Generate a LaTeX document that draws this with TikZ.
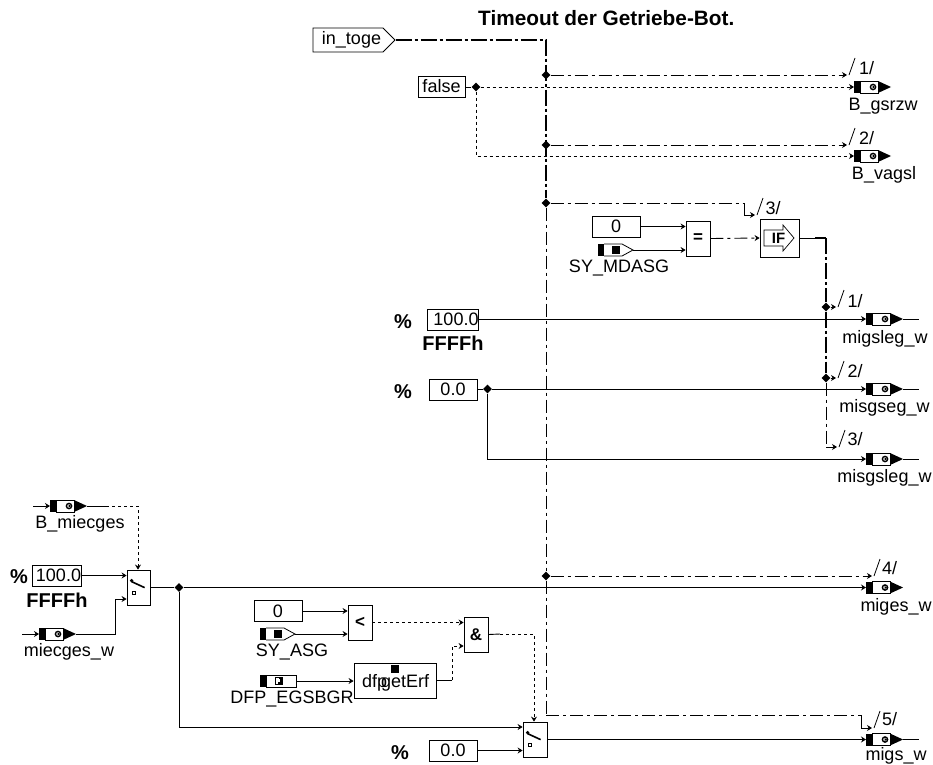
\documentclass[tikz,border=0pt]{standalone}
\usepackage{fontspec}
\setmainfont{Liberation Sans}
\usetikzlibrary{arrows.meta,shapes.geometric,shapes.symbols}

\tikzset{
    lbl/.style={font=\fontsize{18}{18}\selectfont,inner sep=0pt,yshift=-1pt},
    unit/.style={font=\fontsize{20}{20}\selectfont\bfseries,inner sep=0pt},
    const/.style={draw,line width=0.8pt,minimum width=48pt,minimum height=21pt,inner sep=0pt,font=\fontsize{18}{18}\selectfont},
    gate/.style={draw,line width=0.8pt,minimum width=24pt,minimum height=35pt,inner sep=0pt,font=\fontsize{17}{17}\selectfont\bfseries},
    jn/.style={diamond,fill=black,inner sep=0pt,minimum size=9pt},
    sig/.style={line width=0.9pt},
    bit/.style={line width=0.9pt,dash pattern=on 3pt off 3pt},
    seq/.style={line width=0.9pt,dash pattern=on 13pt off 4pt on 3pt off 4pt},
    seqb/.style={line width=1.5pt,dash pattern=on 16pt off 3pt on 3pt off 3pt},
    outport/.pic={
        \fill (0,-6) rectangle (6,6);
        \draw[line width=0.8pt] (6,-6) rectangle (24,6);
        \fill (24,-6) -- (37,0) -- (24,6) -- cycle;
        \draw[line width=1.4pt,fill=white] (19,0) circle (2.6);
        \fill (21,0) -- (18.6,-1.5) -- (18.6,1.5) -- cycle;
        \coordinate (-in) at (0,0);
        \coordinate (-out) at (37,0);
    },
    inport/.pic={
        \fill (0,-6) rectangle (6,6);
        \draw[line width=0.8pt] (6,-6) -- (24,-6) -- (35,0) -- (24,6) -- (6,6);
        \fill (14,-4) rectangle (22,4);
        \coordinate (-out) at (35,0);
    },
    dfpport/.pic={
        \fill (0,-6) rectangle (6,6);
        \draw[line width=0.8pt] (6,-6) rectangle (36,6);
        \draw[line width=1pt] (15,-3.5) rectangle (22,3.5);
        \fill (19,-3.5) rectangle (22,0);
        \fill (18,-1) rectangle (22,3.5);
        \fill[white] (16,-2.5) rectangle (20,1);
        \coordinate (-out) at (36,0);
    },
    switch/.pic={
        \draw[line width=1.6pt] (5,12) -- (18,18);
        \fill (5,11) circle (1.8);
        \draw[line width=0.7pt] (6,21.5) rectangle (9,24.5);
    },
    tick/.pic={
        \draw[line width=0.8pt] (2,0) -- (8,-17);
    }
}

\begin{document}
\begin{tikzpicture}[>={Stealth[length=5pt,width=6pt]},x=1pt,y=-1pt]
    \clip (0,0) rectangle (933,764);
    % title
    \node[font=\fontsize{20.8}{21}\selectfont\bfseries,inner sep=0pt,anchor=west] (title) at (478,18) {Timeout der Getriebe-Bot.};
    % timeout branch
    \node[draw,line width=0.8pt,signal,signal to=east,signal pointer angle=90,minimum width=82pt,minimum height=24pt,inner sep=0pt,font=\fontsize{18}{18}\selectfont] (intoge) at (348,40) {\hspace{7pt}in\_toge};
    \coordinate (mainbot) at (546,715);
    \node[jn] (j1) at (546,75) {};
    \node[jn] (j2) at (546,145) {};
    \node[jn] (j3) at (546,203) {};
    \node[jn] (j4) at (546,576) {};
    \draw[seqb] (intoge.east) -- (intoge.east -| j1) -- (j3);
    \draw[seq] (j3) -- (j4) -- (mainbot);

    \coordinate (t1) at (847,75);
    \coordinate (t2) at (847,145);
    \coordinate (t3) at (755,215);
    \coordinate (t3a) at (744,203);
    \coordinate (t4) at (872,576);
    \coordinate (t5) at (872,728);
    \coordinate (t5a) at (861,715);
    \coordinate (t5b) at (861,728);
    \draw[seq,->] (j1) -- (t1);
    \draw[seq,->] (j2) -- (t2);
    \draw[seq] (j3) -- (t3a);
    \draw[sig,->] (t3a) -- (t3a |- t3) -- (t3);
    \draw[seq,->] (j4) -- (t4);
    \draw[seq] (mainbot) -- (t5a);
    \draw[sig,->] (t5a) -- (t5b) -- (t5);
    \pic at (t1) {tick};
    \pic at (t2) {tick};
    \pic at (t3) {tick};
    \pic at (t4) {tick};
    \pic at (t5) {tick};
    \node[lbl] (n1) at (866.5,67) {1/};
    \node[lbl] (n2) at (866.5,137) {2/};
    \node[lbl] (n3) at (773,207) {3/};
    \node[lbl] (n4) at (889.5,567) {4/};
    \node[lbl] (n5) at (889.5,718) {5/};

    % false
    \node[const,minimum width=47pt] (false) at (441.5,86.5) {false};
    \node[jn] (jf) at (476,87) {};
    \draw[sig] (false.east |- jf) -- (jf);
    \pic (oA) at (854,87) {outport};
    \pic (oB) at (854,156) {outport};
    \draw[bit,->] (jf) -- (oA-in);
    \draw[bit,->] (jf) -- (jf |- oB-in) -- (oB-in);
    \node[lbl] (lA) at (883,105) {B\_gsrzw};
    \node[lbl] (lB) at (884,174) {B\_vagsl};

    % IF part
    \node[const] (zeroA) at (616,226.5) {0};
    \node[gate,minimum height=35pt] (eq) at (698,238.5) {=};
    \pic (sA) at (598,250) {inport};
    \node[lbl] (lsA) at (619,267) {SY\_MDASG};
    \draw[sig,->] (zeroA.east) -- (zeroA.east -| eq.west);
    \draw[sig,->] (sA-out) -- (sA-out -| eq.west);
    \node[draw,line width=0.8pt,minimum width=39pt,minimum height=38pt,inner sep=0pt] (ifbox) at (779.5,238) {};
    \draw[line width=0.7pt] (764,230) -- (783,230) -- (783,225) -- (794,238) -- (783,251) -- (783,246) -- (764,246) -- cycle;
    \node[font=\fontsize{15}{15}\selectfont\bfseries,inner sep=0pt] (iftxt) at (778.5,238.5) {IF};
    \draw[seq,->] (eq.east) -- (ifbox.west);

    \coordinate (ifc) at (826,238);
    \coordinate (ifs) at (815,238);
    \coordinate (bot3) at (826,447);
    \node[jn] (k1) at (826,307) {};
    \node[jn] (k2) at (826,378) {};
    \coordinate (u1) at (836,307);
    \coordinate (u2) at (836,378);
    \coordinate (u3) at (837,447);
    \draw[sig] (ifbox.east) -- (ifs);
    \draw[line width=1.6pt] (ifs) -- (ifc);
    \draw[seqb] (ifc) -- (k1) -- (k2);
    \draw[seq] (k2) -- (bot3);
    \draw[sig,->] (k1) -- (u1);
    \draw[sig,->] (k2) -- (u2);
    \draw[sig,->] (bot3) -- (u3);
    \pic at (u1) {tick};
    \pic at (u2) {tick};
    \pic at (u3) {tick};
    \node[lbl] (m1) at (855,300) {1/};
    \node[lbl] (m2) at (855,370) {2/};
    \node[lbl] (m3) at (855,438) {3/};

    % constants to outputs
    \node[const] (hun) at (453,319.5) {\hspace{6pt}100.0};
    \node[unit] (pA) at (403,322) {\%};
    \node[unit] (fA) at (453,343) {FFFFh};
    \node[const] (nul) at (453,389.5) {0.0};
    \node[unit] (pB) at (403,392) {\%};
    \node[jn] (jn0) at (487.5,389) {};
    \pic (oC) at (866,319) {outport};
    \pic (oD) at (866,389) {outport};
    \pic (oE) at (866,459) {outport};
    \coordinate (eC) at (919,319);
    \coordinate (eD) at (919,389);
    \coordinate (eE) at (919,459);
    \draw[sig,->] (hun.east |- oC-in) -- (oC-in);
    \draw[sig] (nul.east |- jn0) -- (jn0);
    \draw[sig,->] (jn0) -- (oD-in);
    \draw[sig,->] (jn0) -- (jn0 |- oE-in) -- (oE-in);
    \draw[sig] (oC-out) -- (eC);
    \draw[sig] (oD-out) -- (eD);
    \draw[sig] (oE-out) -- (eE);
    \node[lbl] (lC) at (885,338) {migsleg\_w};
    \node[lbl] (lD) at (884.5,407) {misgseg\_w};
    \node[lbl] (lE) at (884.5,477) {misgsleg\_w};

    % left switch
    \pic (oF) at (50,506) {outport};
    \coordinate (sF) at (33,506);
    \coordinate (bF) at (106,506);
    \coordinate (cF) at (138,506);
    \node[lbl] (lF) at (80,523) {B\_miecges};
    \pic (oG) at (39,634) {outport};
    \coordinate (sG) at (22,634);
    \node[lbl] (lG) at (69,651) {miecges\_w};
    \node[gate,minimum width=23pt] (swA) at (138.5,587.5) {};
    \pic at (swA.north west) {switch};
    \node[const,minimum width=47pt] (hunB) at (56.5,575.5) {\hspace{4pt}100.0};
    \node[unit] (pC) at (19,577) {\%};
    \node[unit] (fB) at (57,600) {FFFFh};
    \coordinate (swin) at (115,599);
    \draw[sig,->] (sF) -- (oF-in);
    \draw[sig] (oF-out) -- (bF);
    \draw[bit,->] (bF) -- (cF) -- (swA.north -| cF);
    \draw[sig,->] (hunB.east) -- (swA.west |- hunB.east);
    \draw[sig,->] (sG) -- (oG-in);
    \draw[sig] (oG-out) -- (oG-out -| swin) -- (swin);
    \draw[sig,->] (swin) -- (swA.west |- swin);

    % miges
    \node[jn] (jm) at (179,587.5) {};
    \pic (oH) at (866,587.5) {outport};
    \draw[sig] (swA.east) -- (jm);
    \draw[sig,->] (jm) -- (oH-in);
    \node[lbl] (lH) at (896,606) {miges\_w};

    % lower logic
    \node[const] (zeroB) at (278,611) {0};
    \node[gate] (lt) at (360,622.5) {<};
    \pic (sB) at (260,634) {inport};
    \node[lbl] (lsB) at (292,651) {SY\_ASG};
    \draw[sig,->] (zeroB.east) -- (zeroB.east -| lt.west);
    \draw[sig,->] (sB-out) -- (sB-out -| lt.west);
    \node[gate] (andg) at (476,634.5) {\&};
    \draw[bit,->] (lt.east) -- (lt.east -| andg.west);
    \pic (dfA) at (260,681) {dfpport};
    \node[lbl] (ldf) at (292,698) {DFP\_EGSBGR};
    \node[draw,line width=0.8pt,minimum width=82pt,minimum height=35pt,inner sep=0pt] (dfpbox) at (395,680.5) {};
    \node[lbl,anchor=west] (dfptxt) at (362,682) {dfp};
    \node[lbl,anchor=west] (gettxt) at (381,682) {getErf};
    \node[fill=black,minimum size=8pt,inner sep=0pt] (dfpmark) at (395,669) {};
    \draw[sig,->] (dfA-out) -- (dfA-out -| dfpbox.west);
    \coordinate (dfa) at (452,680);
    \coordinate (dfb) at (452,646);
    \draw[sig] (dfpbox.east |- dfa) -- (dfa);
    \draw[bit,->] (dfa) -- (dfb) -- (dfb -| andg.west);
    \node[gate,minimum width=24pt] (swB) at (535,739.5) {};
    \pic at (swB.north west) {switch};
    \coordinate (anda) at (500,634);
    \coordinate (andb) at (534,634);
    \draw[sig] (andg.east) -- (anda);
    \draw[bit,->] (anda) -- (andb) -- (swB.north -| andb);
    \coordinate (swc) at (179,727);
    \draw[sig] (jm) -- (swc);
    \draw[sig,->] (swc) -- (swB.west |- swc);
    \node[const] (nulB) at (453,750.5) {0.0};
    \node[unit] (pD) at (400,753) {\%};
    \draw[sig,->] (nulB.east) -- (swB.west |- nulB.east);
    \pic (oI) at (866,739.5) {outport};
    \coordinate (eI) at (919,739.5);
    \draw[line width=1.2pt,->] (swB.east) -- (oI-in);
    \draw[line width=1.2pt] (oI-out) -- (eI);
    \node[lbl] (lI) at (896,754.5) {migs\_w};
\end{tikzpicture}
\end{document}
